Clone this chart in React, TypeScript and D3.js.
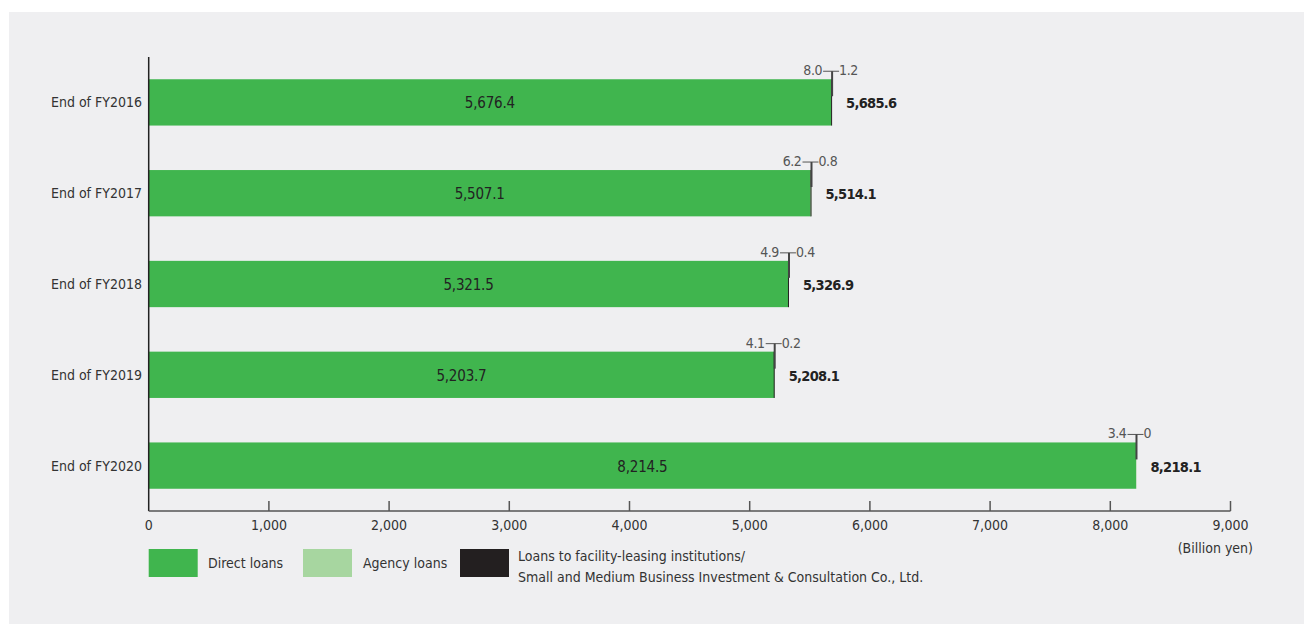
import React from "react";
import * as d3 from "d3";

// Loans outstanding by year end (billion yen)
const categories = ["End of FY2016", "End of FY2017", "End of FY2018", "End of FY2019", "End of FY2020"];
const directLoans = [5676.4, 5507.1, 5321.5, 5203.7, 8214.5];
const agencyLoans = [8.0, 6.2, 4.9, 4.1, 3.4];
const facilityLoans = [1.2, 0.8, 0.4, 0.2, 0];
const totals = [5685.6, 5514.1, 5326.9, 5208.1, 8218.1];
const xTicks = [0, 1000, 2000, 3000, 4000, 5000, 6000, 7000, 8000, 9000];
const seriesNames = ["Direct loans", "Agency loans"];
const facilityLegend = [
  "Loans to facility-leasing institutions/",
  "Small and Medium Business Investment & Consultation Co., Ltd.",
];
const unitLabel = "(Billion yen)";

const W = 1304;
const H = 616;
const FONT = "'DejaVu Sans Condensed', 'Liberation Sans Narrow', sans-serif";
const GREEN = "#40b54e";
const LIGHT = "#a7d6a0";
const DARK = "#231f20";
const TEXT = "#333";

export default function App() {
  const x = d3.scaleLinear().domain([0, 9000]).range([140.7, 1222.5]);
  const y = d3.scaleBand<string>().domain(categories).range([49, 503]).paddingInner(0.49).paddingOuter(0.245);
  const fmt = d3.format(",.1f");
  const tickFmt = d3.format(",");
  const axisY = 503;
  const bh = y.bandwidth();

  return (
    <svg width={W} height={H} style={{ display: "block" }} fontFamily={FONT}>
      <rect x={1} y={4} width={W - 1} height={H - 4} fill="#efeff1" />

      {categories.map((c, i) => {
        const y0 = y(c)!;
        const x0 = x(0);
        const x1 = x(directLoans[i]);
        const x2 = x(directLoans[i] + agencyLoans[i]);
        const x3 = x(directLoans[i] + agencyLoans[i] + facilityLoans[i]);
        const stemX = x3;
        const lineY = y0 - 8;
        return (
          <g key={c}>
            <rect x={x0} y={y0} width={x1 - x0} height={bh} fill={GREEN} />
            <rect x={x1} y={y0} width={Math.max(0, x2 - x1)} height={bh} fill={LIGHT} />
            {facilityLoans[i] > 0 && (
              <line x1={x3 - 0.5} x2={x3 - 0.5} y1={y0} y2={y0 + bh} stroke={DARK} strokeWidth={1} />
            )}
            {/* leader for the two small segments */}
            <line x1={stemX - 9} x2={stemX + 7} y1={lineY} y2={lineY} stroke="#555" strokeWidth={1} />
            <line x1={stemX} x2={stemX} y1={lineY} y2={y0 + 17} stroke="#444" strokeWidth={2} />
            <text x={stemX - 10} y={lineY + 4} textAnchor="end" fontSize={14} fill="#555" letterSpacing={-0.4}>
              {agencyLoans[i].toFixed(1)}
            </text>
            <text x={stemX + 7} y={lineY + 4} textAnchor="start" fontSize={14} fill="#555" letterSpacing={-0.4}>
              {facilityLoans[i] === 0 ? "0" : facilityLoans[i].toFixed(1)}
            </text>
            <text x={(x0 + x1) / 2} y={y0 + bh / 2 + 6} textAnchor="middle" fontSize={15} fill="#222" letterSpacing={-0.2}>
              {fmt(directLoans[i])}
            </text>
            <text x={x3 + 14} y={y0 + bh / 2 + 6} textAnchor="start" fontSize={14.5} fontWeight="bold" fill="#222" letterSpacing={-0.7}>
              {fmt(totals[i])}
            </text>
            <text x={134} y={y0 + bh / 2 + 5} textAnchor="end" fontSize={14} fill={TEXT}>
              {c}
            </text>
          </g>
        );
      })}

      {/* axes */}
      <line x1={x(0)} x2={x(0)} y1={49} y2={axisY} stroke="#222" strokeWidth={1.5} />
      <line x1={x(0)} x2={x(9000)} y1={axisY} y2={axisY} stroke="#555" strokeWidth={1.5} />
      {xTicks.map((t) => (
        <g key={t}>
          {t > 0 && <line x1={x(t)} x2={x(t)} y1={axisY - 10} y2={axisY} stroke="#555" strokeWidth={1.5} />}
          <text x={x(t)} y={axisY + 19} textAnchor="middle" fontSize={14} fill={TEXT}>
            {tickFmt(t)}
          </text>
        </g>
      ))}
      <text x={1245} y={545} textAnchor="end" fontSize={14} fill={TEXT}>
        {unitLabel}
      </text>

      {/* legend */}
      <rect x={140.7} y={541} width={49} height={28} fill={GREEN} />
      <text x={200} y={560} fontSize={14} fill={TEXT}>{seriesNames[0]}</text>
      <rect x={295} y={541} width={49} height={28} fill={LIGHT} />
      <text x={355} y={560} fontSize={14} fill={TEXT}>{seriesNames[1]}</text>
      <rect x={452} y={541} width={49} height={28} fill={DARK} />
      <text x={510} y={553} fontSize={14} fill={TEXT}>{facilityLegend[0]}</text>
      <text x={510} y={574} fontSize={14} fill={TEXT}>{facilityLegend[1]}</text>
    </svg>
  );
}
